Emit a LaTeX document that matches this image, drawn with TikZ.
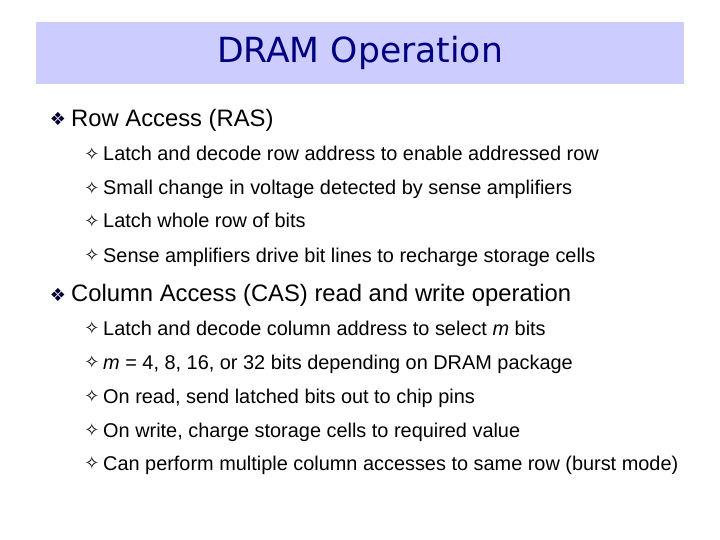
\documentclass[tikz,border=0pt]{standalone}
\usepackage{fontspec}
\setmainfont{Liberation Sans}
\newfontfamily\symf{DejaVu Sans}
\newfontfamily\titlef{DejaVu Sans}
\definecolor{band}{HTML}{CCCCFF}
\definecolor{navy}{HTML}{000080}
\definecolor{bul}{HTML}{000033}
\begin{document}
\begin{tikzpicture}[x=1pt,y=-1pt,
  lone/.style={anchor=base west,inner sep=0pt,font=\fontsize{23.8}{28}\selectfont},
  ltwo/.style={anchor=base west,inner sep=0pt,font=\fontsize{19.9}{24}\selectfont},
  bone/.style={anchor=base,inner sep=0pt,text=bul,font=\symf\fontsize{18}{20}\selectfont},
  btwo/.style={anchor=base,inner sep=0pt,font=\symf\fontsize{18}{20}\selectfont}]
\useasboundingbox (0,0) rectangle (720,540);
\fill[band] (36,22) rectangle (684,84);
\node[inner sep=0pt,text=navy,font=\titlef\fontsize{34.6}{38}\selectfont] (title) at (360,53) {DRAM Operation};
\node[bone] (b1) at (58,126) {❖};
\node[lone] (t1) at (71,126.5) {Row Access (RAS)};
\foreach \y/\t [count=\i] in {154/Latch and decode row address to enable addressed row,
  188/Small change in voltage detected by sense amplifiers,
  221/Latch whole row of bits,
  255/Sense amplifiers drive bit lines to recharge storage cells}{
  \node[btwo] (sb\i) at (92,\y+6.5) {✧};
  \node[ltwo] (s\i) at (103,\y+7) {\t};
}
\node[bone] (b2) at (58,301) {❖};
\node[lone] (t2) at (71,301.5) {Column Access (CAS) read and write operation};
\foreach \y/\t [count=\i] in {328/{Latch and decode column address to select \textit{m} bits},
  362/{\textit{m} = 4, 8, 16, or 32 bits depending on DRAM package},
  396/{On read, send latched bits out to chip pins},
  430/{On write, charge storage cells to required value},
  463/{Can perform multiple column accesses to same row (burst mode)}}{
  \node[btwo] (cb\i) at (92,\y+6.5) {✧};
  \node[ltwo] (c\i) at (103,\y+7) {\t};
}
\end{tikzpicture}
\end{document}
